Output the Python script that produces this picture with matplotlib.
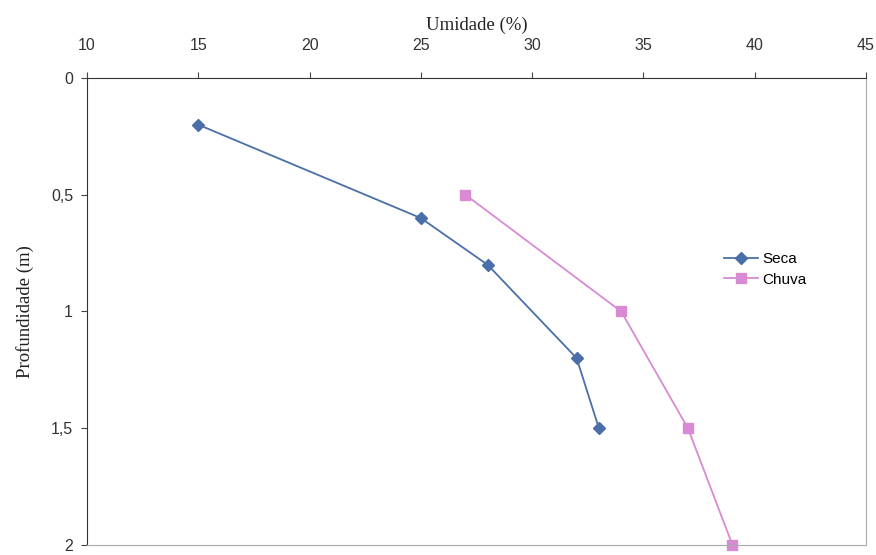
import numpy as np
import matplotlib.pyplot as plt

# dados
seca_umid = [15, 25, 28, 32, 33]
seca_prof = [0.2, 0.6, 0.8, 1.2, 1.5]
chuva_umid = [27, 34, 37, 39]
chuva_prof = [0.5, 1.0, 1.5, 2.0]

x_ticks = [10, 15, 20, 25, 30, 35, 40, 45]
y_ticks = [0, 0.5, 1, 1.5, 2]
y_labels = ['0', '0,5', '1', '1,5', '2']

fig = plt.figure(figsize=(8.76, 5.55), dpi=100)
ax = fig.add_axes([0.0993, 0.018, 0.8893, 0.8415])

ax.plot(seca_umid, seca_prof, color='#4a6fa8', marker='D', markersize=6, lw=1.3, label='Seca')
ax.plot(chuva_umid, chuva_prof, color='#d88ad2', marker='s', markersize=7, lw=1.3, label='Chuva', clip_on=False)

ax.set_xlim(10, 45)
ax.set_ylim(2, 0)
ax.xaxis.tick_top()
ax.xaxis.set_label_position('top')
ax.set_xticks(x_ticks)
ax.set_yticks(y_ticks)
ax.set_yticklabels(y_labels)
ax.tick_params(labelsize=11.5, labelcolor='#333333', length=4, width=0.8, color='#444444')
ax.tick_params(axis='x', pad=14)
ax.tick_params(axis='y', pad=6)
for lab in ax.get_xticklabels() + ax.get_yticklabels():
    lab.set_family('Liberation Sans')

ax.set_xlabel('Umidade (%)', family='Liberation Serif', fontsize=13.5, labelpad=6, color='#222222')
ax.set_ylabel('Profundidade (m)', family='Liberation Serif', fontsize=13.5, labelpad=12, color='#222222')

ax.spines['left'].set_color('#333333')
ax.spines['top'].set_color('#333333')
for s in ['right', 'bottom']:
    ax.spines[s].set_color('#aaaaaa')
    ax.spines[s].set_linestyle((0, (1, 1)))
    ax.spines[s].set_linewidth(0.8)

leg = ax.legend(loc='center left', bbox_to_anchor=(0.8, 0.59), frameon=False,
                prop={'family': 'Liberation Sans', 'size': 11}, handlelength=2.2,
                handletextpad=0.3, labelspacing=0.4)

fig.savefig('out.png', dpi=100)
